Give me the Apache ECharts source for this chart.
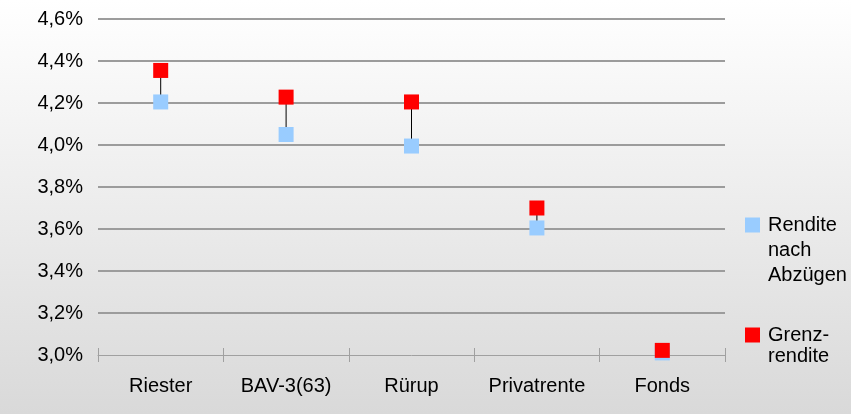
<!DOCTYPE html>
<html>
<head>
<meta charset="utf-8">
<script src="https://cdn.jsdelivr.net/npm/echarts@6/dist/echarts.min.js"></script>
<style>
  html, body { margin: 0; padding: 0; }
  #chart { width: 851px; height: 414px; }
</style>
</head>
<body>
<div id="chart"></div>
<script>
// Werte (in %)
const categories = ['Riester', 'BAV-3(63)', 'Rürup', 'Privatrente', 'Fonds']
const renditeNachAbzuegen = [4.205, 4.05, 3.995, 3.605, 3.01]
const grenzrendite = [4.355, 4.228, 4.205, 3.70, 3.022]
const yTicks = { min: 3.0, max: 4.6, step: 0.2 }
const legendRendite = ['Rendite', 'nach', 'Abzügen']
const legendGrenz = ['Grenz-', 'rendite']

const blue = '#99CCFF'
const red = '#FF0000'
const font = 'Liberation Sans, Arial, sans-serif'

const chart = echarts.init(document.getElementById('chart'))

// Verbindungslinien zwischen den beiden Werten
const hiLo = categories.map((c, i) => [i, renditeNachAbzuegen[i], grenzrendite[i]])

function legendText(lines) {
  return lines.map((l, i) => (i === 0 ? '{sq| }{gap|}' : '{ind|}') + '{t|' + l + '}').join('\n')
}
function legendRich(color, lh) {
  return {
    sq: { width: 15, height: 15, backgroundColor: color, verticalAlign: 'middle' },
    gap: { width: 8 },
    ind: { width: 23 },
    t: { fontSize: 20, color: '#000', lineHeight: lh, fontFamily: font }
  }
}

const option = {
  backgroundColor: new echarts.graphic.LinearGradient(0, 0, 0, 1, [
    { offset: 0, color: '#ffffff' },
    { offset: 1, color: '#d9d9d9' }
  ]),
  animation: false,
  grid: { left: 98, right: 126, top: 19, bottom: 59 },
  legend: [
    {
      data: ['Rendite nach Abzügen'],
      left: 740, top: 215,
      padding: 0,
      itemWidth: 0, itemHeight: 0,
      selectedMode: false,
      formatter: () => legendText(legendRendite),
      textStyle: { rich: legendRich(blue, 25) }
    },
    {
      data: ['Grenzrendite'],
      left: 740, top: 325,
      padding: 0,
      itemWidth: 0, itemHeight: 0,
      selectedMode: false,
      formatter: () => legendText(legendGrenz),
      textStyle: { rich: legendRich(red, 21) }
    }
  ],
  xAxis: [
    {
      type: 'category',
      data: categories,
      boundaryGap: true,
      axisLine: { lineStyle: { color: '#a0a0a0', width: 1 } },
      axisTick: { show: true, length: 7, lineStyle: { color: '#a0a0a0' } },
      axisLabel: { interval: 0, fontSize: 20, color: '#000', fontFamily: font, margin: 21 }
    },
    {
      type: 'category',
      data: categories,
      position: 'bottom',
      boundaryGap: true,
      axisLine: { show: false },
      axisTick: { show: true, inside: true, length: 7, lineStyle: { color: '#a0a0a0' } },
      axisLabel: { show: false }
    }
  ],
  yAxis: {
    type: 'value',
    min: yTicks.min,
    max: yTicks.max,
    interval: yTicks.step,
    axisLine: { show: false },
    axisTick: { show: false },
    axisLabel: {
      fontSize: 20, color: '#000', fontFamily: font, margin: 15,
      formatter: v => v.toFixed(1).replace('.', ',') + '%'
    },
    splitLine: { showMinLine: false, lineStyle: { color: '#9c9c9c', width: 2 } }
  },
  series: [
    {
      type: 'custom',
      data: hiLo,
      silent: true,
      z: 1,
      renderItem: (params, api) => {
        const a = api.coord([api.value(0), api.value(1)])
        const b = api.coord([api.value(0), api.value(2)])
        return {
          type: 'line',
          shape: { x1: a[0], y1: a[1], x2: b[0], y2: b[1] },
          style: { stroke: '#000', lineWidth: 1 }
        }
      }
    },
    {
      name: 'Rendite nach Abzügen',
      type: 'scatter',
      data: renditeNachAbzuegen,
      symbol: 'rect',
      symbolSize: 15,
      itemStyle: { color: blue, opacity: 1 },
      z: 2
    },
    {
      name: 'Grenzrendite',
      type: 'scatter',
      data: grenzrendite,
      symbol: 'rect',
      symbolSize: 15,
      itemStyle: { color: red, opacity: 1 },
      z: 3
    }
  ]
}

chart.setOption(option)
</script>
</body>
</html>
